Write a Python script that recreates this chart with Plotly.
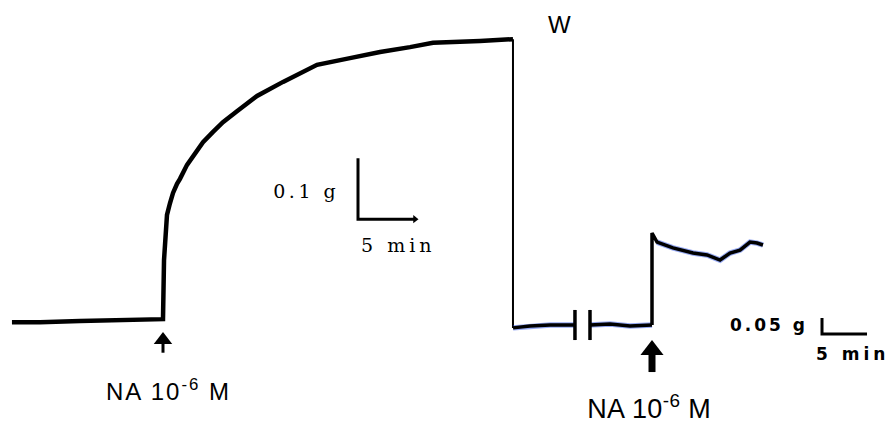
import plotly.graph_objects as go

# ---------------- data ----------------
# Trace 1 (first recording, scale 0.1 g / 5 min); time in min from NA addition, tension in g above baseline
t1_min = [-13.25, -10.79, -7.28, -3.77, 0.0, 0.09, 0.18, 0.35, 0.61, 0.88, 1.23, 1.49, 2.11,
          2.81, 3.51, 4.39, 5.26, 6.49, 8.25, 10.53, 12.02, 13.51, 16.40, 19.04, 21.67,
          23.68, 27.81, 30.70]
t1_g = [-0.002, -0.002, 0.0, 0.002, 0.003, 0.100, 0.141, 0.174, 0.193, 0.210, 0.225, 0.233,
        0.256, 0.275, 0.293, 0.310, 0.326, 0.344, 0.369, 0.392, 0.405, 0.420, 0.431, 0.441,
        0.449, 0.456, 0.459, 0.462]

# Washout (W): pen drop at end of trace 1
wash_t = [30.70, 30.70]
wash_g = [0.462, -0.0115]

# Trace 2 (second recording, scale 0.05 g / 5 min)
t2_base_a = [-15.44, -13.56, -11.33, -8.56]
g2_base_a = [-0.009, -0.003, 0.0, 0.0]
t2_base_b = [-6.89, -4.67, -2.44, 0.0]
g2_base_b = [0.0, 0.003, -0.003, 0.0]
t2_resp = [0.0, 0.0, 0.56, 2.33, 4.56, 6.11, 7.56, 8.67, 9.78, 10.89, 11.67, 12.33]
g2_resp = [0.0, 0.2875, 0.259, 0.241, 0.225, 0.219, 0.203, 0.225, 0.234, 0.259, 0.256, 0.25]
break_t = [-8.56, -6.89]

# Scale bars
scale1 = {"g": 0.1, "min": 5, "t0": 17.105, "g0": 0.167}
scale2 = {"g": 0.05, "min": 5, "t0": 18.89, "g0": -0.028}

labels = {"drug": "NA 10<sup>-6</sup> M", "wash": "W",
          "s1_g": "0.1 g", "s1_t": "5 min", "s2_g": "0.05 g", "s2_t": "5 min"}

# ---------------- axes scales ----------------
X1 = [-14.298, 64.035]
Y1 = [-0.16721, 0.52623]
X2 = [-72.444, 26.778]
Y2 = [-0.30625, 1.015625]

fig = go.Figure()
BLACK = "#000000"

def ln(x, y, w, ax=1, color=BLACK, opacity=1.0):
    fig.add_trace(go.Scatter(x=x, y=y, mode="lines", line=dict(color=color, width=w),
                             opacity=opacity, hoverinfo="skip", showlegend=False,
                             xaxis="x" if ax == 1 else "x2", yaxis="y" if ax == 1 else "y2"))

def mk(x, y, sym, size, ax=1):
    fig.add_trace(go.Scatter(x=x, y=y, mode="markers",
                             marker=dict(symbol=sym, size=size, color=BLACK, line=dict(width=0)),
                             hoverinfo="skip", showlegend=False,
                             xaxis="x" if ax == 1 else "x2", yaxis="y" if ax == 1 else "y2"))

# trace 1
ln(t1_min, t1_g, 4.5)
ln(wash_t, wash_g, 2)

# trace 2 (blue fringe underlay + black)
for tx, gy in ((t2_base_a, g2_base_a), (t2_base_b, g2_base_b), (t2_resp[2:], g2_resp[2:])):
    ln(tx, gy, 5.5, ax=2, color="#2f55e8", opacity=0.5)
ln(t2_base_a, g2_base_a, 3.5, ax=2)
ln(t2_base_b, g2_base_b, 3.5, ax=2)
ln(t2_resp, g2_resp, 3.5, ax=2)
# break marks
bx, by = [], []
for t in break_t:
    bx += [t, t, None]
    by += [0.047, -0.047, None]
ln(bx, by, 3.5, ax=2)

# NA arrows
t_na = 0.0
ln([t_na, t_na], [-0.036, -0.052], 3)
mk([t_na], [-0.0311], "triangle-up", 16)
ln([t_na, t_na], [-0.085, -0.147], 7, ax=2)
mk([t_na], [-0.078], "triangle-up", 20, ax=2)

# scale bar 1 (with arrow tip)
ln([scale1["t0"], scale1["t0"], scale1["t0"] + scale1["min"]],
   [scale1["g0"] + scale1["g"], scale1["g0"], scale1["g0"]], 3)
mk([scale1["t0"] + scale1["min"]], [scale1["g0"]], "triangle-right", 7)
# scale bar 2
ln([scale2["t0"], scale2["t0"], scale2["t0"] + scale2["min"]],
   [scale2["g0"] + scale2["g"], scale2["g0"], scale2["g0"]], 3, ax=2)

# ---------------- annotations ----------------
sans = "Liberation Sans, Arial, sans-serif"
serif = "DejaVu Serif, Liberation Serif, serif"
bold = "DejaVu Sans, Arial, sans-serif"
ann = []
letter_sp = []
ann.append(dict(x=t_na, y=-0.052, xref="x", yref="y", text=labels["drug"], showarrow=False,
                xanchor="center", yanchor="middle", xshift=5, yshift=-37,
                font=dict(family=sans, size=24, color=BLACK)))
letter_sp.append(2)
ann.append(dict(x=t_na, y=-0.147, xref="x2", yref="y2", text=labels["drug"], showarrow=False,
                xanchor="center", yanchor="middle", xshift=-3, yshift=-35,
                font=dict(family=sans, size=27, color=BLACK)))
letter_sp.append(0.4)
ann.append(dict(x=wash_t[0], y=wash_g[0], xref="x", yref="y", text=labels["wash"], showarrow=False,
                xanchor="center", yanchor="middle", xshift=47, yshift=15,
                font=dict(family=sans, size=24, color=BLACK)))
letter_sp.append(0)
ann.append(dict(x=scale1["t0"], y=scale1["g0"], xref="x", yref="y",
                text=labels["s1_g"], showarrow=False, xanchor="center", yanchor="middle",
                xshift=-52, yshift=28, font=dict(family=serif, size=19, color=BLACK)))
letter_sp.append(3.5)
ann.append(dict(x=scale1["t0"], y=scale1["g0"], xref="x", yref="y",
                text=labels["s1_t"], showarrow=False, xanchor="center", yanchor="middle",
                xshift=40, yshift=-26, font=dict(family=serif, size=19, color=BLACK)))
letter_sp.append(4)
ann.append(dict(x=scale2["t0"], y=scale2["g0"], xref="x2", yref="y2",
                text=labels["s2_g"], showarrow=False, xanchor="center", yanchor="middle",
                xshift=-53, yshift=9, font=dict(family=bold, size=17, color=BLACK, weight="bold")))
letter_sp.append(3)
ann.append(dict(x=scale2["t0"], y=scale2["g0"], xref="x2", yref="y2",
                text=labels["s2_t"], showarrow=False, xanchor="center", yanchor="middle",
                xshift=30, yshift=-20, font=dict(family=bold, size=17, color=BLACK, weight="bold")))
letter_sp.append(4)

ax_common = dict(visible=False, fixedrange=True, showgrid=False, zeroline=False)
fig.update_layout(
    width=893, height=423, margin=dict(l=0, r=0, t=0, b=0),
    paper_bgcolor="white", plot_bgcolor="white", showlegend=False,
    xaxis=dict(range=X1, **ax_common),
    yaxis=dict(range=Y1, **ax_common),
    xaxis2=dict(range=X2, overlaying="x", **ax_common),
    yaxis2=dict(range=Y2, overlaying="y", **ax_common),
    annotations=ann,
)

js = """
var gd = document.getElementById('{plot_id}');
var sp = %s;
gd.querySelectorAll('.annotation').forEach(function(a){
  var i = +a.getAttribute('data-index');
  var t = a.querySelector('.annotation-text');
  if (t && sp[i]) { t.setAttribute('letter-spacing', sp[i] + 'px'); }
});
""" % str(letter_sp)
fig.write_html("out.html", config={"displayModeBar": False}, post_script=js)
